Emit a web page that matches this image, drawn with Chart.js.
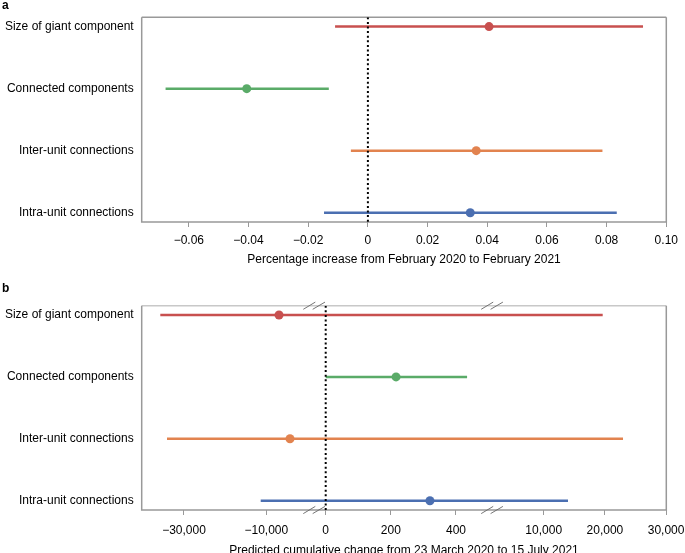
<!DOCTYPE html>
<html>
<head>
<meta charset="utf-8">
<script src="https://cdn.jsdelivr.net/npm/chart.js@4.4.1/dist/chart.umd.min.js"></script>
<style>
  body { margin:0; background:#fff; overflow:hidden; }
  #wrap { position:relative; width:685px; height:553px; }
  canvas { position:absolute; left:0; }
  .lab { position:absolute; left:2px; font:bold 12px/12px "Liberation Sans", Arial, sans-serif; color:#000; }
</style>
</head>
<body>
<div id="wrap">
  <canvas id="panelA" width="685" height="276" style="top:0"></canvas>
  <canvas id="panelB" width="685" height="285" style="top:276px"></canvas>
  <div class="lab" style="top:-1px">a</div>
  <div class="lab" style="top:282px">b</div>
</div>
<script>
const rowLabels = ['Size of giant component', 'Connected components', 'Inter-unit connections', 'Intra-unit connections'];
const rowColors = ['#c8504f', '#5aab68', '#e2834f', '#4b6fb1'];

// a: percentage increase Feb 2020 -> Feb 2021
const aLow  = [-0.0110, -0.0678, -0.0057, -0.0147];
const aEst  = [ 0.0406, -0.0406,  0.0363,  0.0343];
const aHigh = [ 0.0922, -0.0131,  0.0786,  0.0834];
const aTicks = [-0.06, -0.04, -0.02, 0, 0.02, 0.04, 0.06, 0.08, 0.10];
const aTickLabels = ['\u22120.06', '\u22120.04', '\u22120.02', '0', '0.02', '0.04', '0.06', '0.08', '0.10'];

// b: predicted cumulative change 23 Mar 2020 -> 15 Jul 2021 (broken axis)
const bLow  = [-35760,   0, -34130, -11360];
const bEst  = [ -6910, 216,  -4240,    320];
const bHigh = [ 19640, 434,  22960,  13970];
const bTicks = [-30000, -10000, 0, 200, 400, 10000, 20000, 30000];
const bTickLabels = ['\u221230,000', '\u221210,000', '0', '200', '400', '10,000', '20,000', '30,000'];

const FONT = { size: 12, family: '"Liberation Sans", Arial, Helvetica, sans-serif' };

// broken axis: three linear pieces (negatives, 0..500, large positives)
function brokenAxis(v) {
  if (v < 0) return 124.6 + (v + 10000) * 0.004115;
  if (v <= 500) return 184 + v * 0.32575;
  return 402 + (v - 10000) * 0.00612;
}
const same = v => v;

const framePlugin = {
  id: 'frame',
  beforeDatasetsDraw(chart, args, opts) {
    const { ctx, chartArea: { left, right, top, bottom } } = chart;
    ctx.save();
    ctx.lineWidth = 1.5;
    ctx.strokeStyle = opts.topColor || '#999';
    ctx.beginPath(); ctx.moveTo(left, top); ctx.lineTo(right, top); ctx.stroke();
    ctx.strokeStyle = '#999';
    ctx.beginPath();
    ctx.moveTo(right, top); ctx.lineTo(right, bottom); ctx.lineTo(left, bottom); ctx.lineTo(left, top);
    ctx.stroke();
    ctx.restore();
  }
};

const breakPlugin = {
  id: 'breaks',
  afterDraw(chart, args, opts) {
    if (!opts.at || !opts.at.length) return;
    const { ctx, chartArea: { top, bottom } } = chart;
    const xs = chart.scales.x;
    ctx.save();
    ctx.strokeStyle = '#666';
    ctx.lineWidth = 0.9;
    opts.at.forEach(u => {
      const px = xs.getPixelForValue(u);
      [top, bottom].forEach(py => {
        ctx.beginPath();
        ctx.moveTo(px - 11.3, py + 3.6); ctx.lineTo(px + 0.7, py - 3.6);
        ctx.moveTo(px - 1.9, py + 3.6); ctx.lineTo(px + 10.4, py - 3.6);
        ctx.stroke();
      });
    });
    ctx.restore();
  }
};

function buildPanel(id, cfg) {
  const f = cfg.map;
  const datasets = [];
  rowLabels.forEach((r, i) => {
    datasets.push({
      type: 'line',
      data: [{ x: f(cfg.low[i]), y: i + 1 }, { x: f(cfg.high[i]), y: i + 1 }],
      borderColor: rowColors[i], borderWidth: 2.5, pointRadius: 0, order: 3
    });
  });
  datasets.push({
    type: 'line',
    data: [{ x: f(0), y: 0.85 }, { x: f(0), y: 4.15 }],
    borderColor: '#000', borderWidth: 2, borderDash: [2, 2.6], pointRadius: 0, order: 2
  });
  datasets.push({
    type: 'scatter',
    data: cfg.est.map((v, i) => ({ x: f(v), y: i + 1 })),
    backgroundColor: rowColors, pointBackgroundColor: rowColors,
    pointRadius: 4.5, pointBorderWidth: 0, order: 1
  });

  return new Chart(document.getElementById(id), {
    type: 'scatter',
    data: { datasets },
    options: {
      responsive: false,
      animation: false,
      layout: { padding: { left: 0, right: 18.7, top: cfg.top, bottom: 0 } },
      plugins: {
        legend: { display: false },
        tooltip: { enabled: false },
        frame: { topColor: cfg.topColor },
        breaks: { at: cfg.breaks || [] }
      },
      scales: {
        x: {
          type: 'linear', min: cfg.min, max: cfg.max,
          afterBuildTicks: s => { s.ticks = cfg.ticks.map(v => ({ value: f(v) })); },
          afterFit: s => { s.height = cfg.axisH; s.paddingLeft = 0; s.paddingRight = 0; },
          grid: { drawOnChartArea: false, drawTicks: true, tickLength: 5, color: '#999', tickWidth: 1 },
          border: { display: false },
          ticks: {
            color: '#000', font: FONT, padding: cfg.tickPad, maxRotation: 0, autoSkip: false,
            callback: (v, i) => cfg.tickText[i]
          },
          title: { display: true, text: cfg.title, color: '#000', font: FONT, padding: { top: 0, bottom: cfg.titlePad } }
        },
        y: {
          type: 'linear', reverse: true, min: 0.85, max: 4.15,
          afterBuildTicks: s => { s.ticks = rowLabels.map((r, i) => ({ value: i + 1 })); },
          afterFit: s => { s.width = 141.7; s.paddingTop = 0; s.paddingBottom = 0; },
          grid: { display: false, drawTicks: false },
          border: { display: false },
          ticks: { color: '#000', font: FONT, padding: 8, autoSkip: false, callback: (v, i) => rowLabels[i] }
        }
      }
    },
    plugins: [framePlugin, breakPlugin]
  });
}

buildPanel('panelA', {
  map: same, low: aLow, est: aEst, high: aHigh,
  min: -0.0758, max: 0.10, ticks: aTicks, tickText: aTickLabels,
  title: 'Percentage increase from February 2020 to February 2021',
  top: 17.3, axisH: 54, tickPad: 6.3, titlePad: 9.3, topColor: '#999'
});

buildPanel('panelB', {
  map: brokenAxis, low: bLow, est: bEst, high: bHigh,
  min: 0, max: 524.6, ticks: bTicks, tickText: bTickLabels,
  title: 'Predicted cumulative change from 23 March 2020 to 15 July 2021',
  top: 29.7, axisH: 51, tickPad: 8.8, titlePad: 3.5, topColor: '#c8c8c8',
  breaks: [172.9, 350.8]
});
</script>
</body>
</html>
